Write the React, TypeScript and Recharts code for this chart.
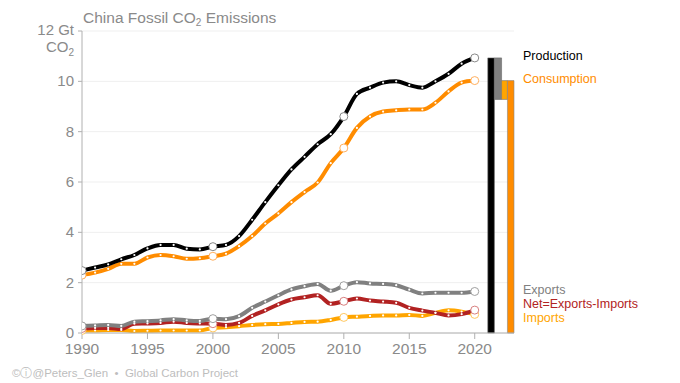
import React from 'react'
import { ComposedChart, Line, XAxis, YAxis, CartesianGrid, ReferenceArea } from 'recharts'

const years = [
  1990, 1991, 1992, 1993, 1994, 1995, 1996, 1997, 1998, 1999,
  2000, 2001, 2002, 2003, 2004, 2005, 2006, 2007, 2008, 2009,
  2010, 2011, 2012, 2013, 2014, 2015, 2016, 2017, 2018, 2019, 2020,
]

const production = [
  2.48, 2.6, 2.73, 2.93, 3.1, 3.36, 3.5, 3.5, 3.35, 3.32,
  3.43, 3.5, 3.85, 4.5, 5.2, 5.87, 6.5, 7.0, 7.5, 7.9,
  8.6, 9.5, 9.75, 9.95, 10.0, 9.85, 9.75, 10.0, 10.3, 10.7, 10.93,
]

const consumption = [
  2.3, 2.4, 2.55, 2.75, 2.75, 3.0, 3.1, 3.05, 2.95, 2.97,
  3.05, 3.15, 3.45, 3.85, 4.35, 4.75, 5.2, 5.6, 5.98, 6.75,
  7.35, 8.15, 8.6, 8.8, 8.85, 8.88, 8.88, 9.15, 9.6, 9.95, 10.03,
]

const exportsCO2 = [
  0.28, 0.3, 0.32, 0.28, 0.45, 0.47, 0.5, 0.55, 0.5, 0.48,
  0.57, 0.55, 0.67, 1.0, 1.25, 1.5, 1.73, 1.86, 1.95, 1.68,
  1.88, 2.02, 1.97, 1.95, 1.9, 1.72, 1.57, 1.6, 1.6, 1.6, 1.65,
]

const importsCO2 = [
  0.1, 0.1, 0.12, 0.12, 0.08, 0.09, 0.1, 0.1, 0.1, 0.1,
  0.2, 0.23, 0.27, 0.32, 0.35, 0.36, 0.4, 0.44, 0.45, 0.52,
  0.62, 0.65, 0.68, 0.7, 0.7, 0.72, 0.68, 0.8, 0.9, 0.85, 0.74,
]

const netCO2 = [
  0.18, 0.2, 0.2, 0.16, 0.37, 0.38, 0.4, 0.45, 0.4, 0.38,
  0.37, 0.32, 0.4, 0.68, 0.9, 1.14, 1.33, 1.42, 1.5, 1.16,
  1.26, 1.37, 1.29, 1.25, 1.2, 1.0, 0.89, 0.8, 0.7, 0.75, 0.91,
]

const xTicks = [1990, 1995, 2000, 2005, 2010, 2015, 2020]
const yTicks = [0, 2, 4, 6, 8, 10, 12]
const circleYears = [1990, 2000, 2010, 2020]

const FONT = '"Liberation Sans", Arial, Helvetica, sans-serif'
const GREY_TEXT = '#8a8a8a'

const data = years.map((year, i) => ({
  year,
  production: production[i],
  consumption: consumption[i],
  exports: exportsCO2[i],
  imports: importsCO2[i],
  net: netCO2[i],
}))

const last = years.length - 1
const prodEnd = production[last]
const afterExports = prodEnd - exportsCO2[last]
const consEnd = consumption[last]

const SERIES = [
  { key: 'production', color: '#000000', ring: '#888888' },
  { key: 'consumption', color: '#ff8c00', ring: '#ffb060' },
  { key: 'exports', color: '#808080', ring: '#a0a0a0' },
  { key: 'net', color: '#b22222', ring: '#d88080' },
  { key: 'imports', color: '#ffa500', ring: '#ffc860' },
]

function makeDot(ring: string) {
  return (props: any) => {
    const { cx, cy, payload, index } = props
    if (cx == null || cy == null) return <g key={index} />
    if (circleYears.includes(payload.year)) {
      return <circle key={index} cx={cx} cy={cy} r={4} fill="#fff" stroke={ring} strokeWidth={1} />
    }
    return <circle key={index} cx={cx} cy={cy} r={1.1} fill="#fff" />
  }
}

function YTick(props: any) {
  const { x, y, payload } = props
  if (payload.value === 12) {
    return (
      <g>
        <text x={x - 2} y={y + 4} textAnchor="end" fontSize={15} fill={GREY_TEXT} fontFamily={FONT}>12 Gt</text>
        <text x={x - 2} y={y + 21} textAnchor="end" fontSize={15} fill={GREY_TEXT} fontFamily={FONT}>
          CO<tspan fontSize={10} dy={4}>2</tspan>
        </text>
      </g>
    )
  }
  return (
    <text x={x - 2} y={y + 5} textAnchor="end" fontSize={15} fill={GREY_TEXT} fontFamily={FONT}>
      {payload.value}
    </text>
  )
}

const labelStyle = (top: number, color: string): React.CSSProperties => ({
  position: 'absolute',
  left: 523,
  top,
  fontSize: 12.5,
  color,
  fontFamily: FONT,
  lineHeight: '14px',
  whiteSpace: 'nowrap',
})

export default function App() {
  return (
    <div style={{ position: 'absolute', left: 0, top: 0, width: 680, height: 383, background: '#fff', fontFamily: FONT }}>
      <div style={{ position: 'absolute', left: 83, top: 9, fontSize: 15.5, color: GREY_TEXT, whiteSpace: 'nowrap' }}>
        China Fossil CO<sub style={{ fontSize: 10, verticalAlign: '-3px' }}>2</sub> Emissions
      </div>
      <ComposedChart
        width={680}
        height={383}
        data={data}
        margin={{ top: 31, right: 166, bottom: 20, left: 0 }}
      >
        <CartesianGrid vertical={false} stroke="#efefef" />
        <XAxis
          dataKey="year"
          type="number"
          domain={[1990, 2023]}
          ticks={xTicks}
          allowDataOverflow
          height={30}
          stroke="#b0b0b0"
          tickSize={6}
          tick={{ fontSize: 15.5, fill: GREY_TEXT, fontFamily: FONT, dy: 2 }}
        />
        <YAxis
          type="number"
          domain={[0, 12]}
          ticks={yTicks}
          width={82}
          stroke="#b0b0b0"
          tickSize={4}
          tick={<YTick />}
        />
        <ReferenceArea x1={2021.0} x2={2021.5} y1={0} y2={prodEnd} fill="#000" fillOpacity={1} stroke="#666" strokeWidth={0.6} />
        <ReferenceArea x1={2021.5} x2={2022.05} y1={afterExports} y2={prodEnd} fill="#808080" fillOpacity={1} stroke="#666" strokeWidth={0.6} />
        <ReferenceArea x1={2022.05} x2={2022.5} y1={afterExports} y2={consEnd} fill="#ffa500" fillOpacity={1} stroke="#777" strokeWidth={0.6} />
        <ReferenceArea x1={2022.5} x2={2023.0} y1={0} y2={consEnd} fill="#ff8c00" fillOpacity={1} stroke="#888" strokeWidth={0.6} />
        {SERIES.slice().reverse().map((s) => (
          <Line
            key={s.key}
            type="monotone"
            dataKey={s.key}
            stroke={s.color}
            strokeWidth={4}
            dot={makeDot(s.ring)}
            activeDot={false}
            isAnimationActive={false}
          />
        ))}
      </ComposedChart>
      <div style={labelStyle(49, '#000')}>Production</div>
      <div style={labelStyle(72, '#ff8c00')}>Consumption</div>
      <div style={labelStyle(283, '#808080')}>Exports</div>
      <div style={labelStyle(297, '#b22222')}>Net=Exports-Imports</div>
      <div style={labelStyle(311, '#ffa500')}>Imports</div>
      <div style={{ position: 'absolute', left: 12, top: 366, fontSize: 11.5, color: '#bdbdbd', whiteSpace: 'nowrap' }}>
        ©ⓘ@Peters_Glen&nbsp;&nbsp;•&nbsp;&nbsp;Global Carbon Project
      </div>
    </div>
  )
}
